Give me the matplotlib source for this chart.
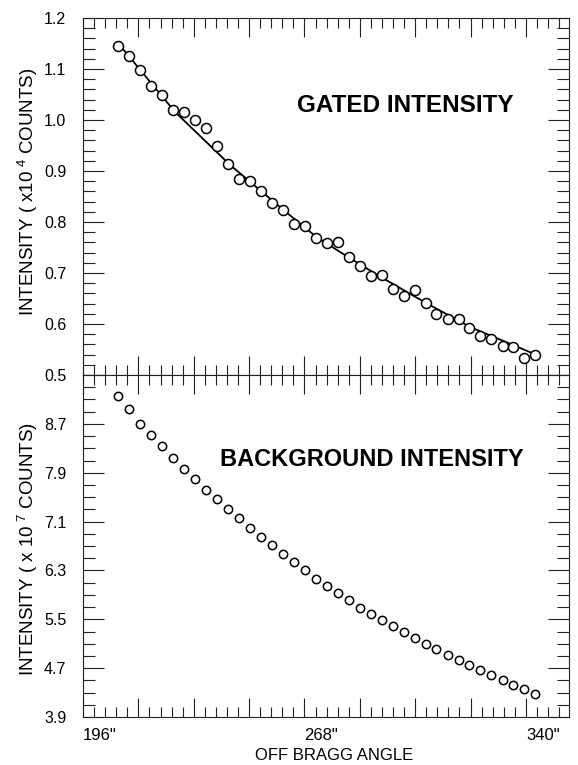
import numpy as np
import matplotlib
matplotlib.use("Agg")
import matplotlib.pyplot as plt
from matplotlib.ticker import FixedLocator, MultipleLocator

plt.rcParams['font.family'] = ['Liberation Sans', 'DejaVu Sans']
plt.rcParams['mathtext.fontset'] = 'custom'
plt.rcParams['mathtext.rm'] = 'Liberation Sans'

# off bragg angle (arcsec) of each measurement
angle = [207.4, 211.0, 214.5, 218.1, 221.7, 225.3, 228.8, 232.4, 236.0, 239.5,
         243.1, 246.7, 250.2, 253.8, 257.4, 261.0, 264.5, 268.1, 271.7, 275.2,
         278.8, 282.4, 285.9, 289.5, 293.1, 296.7, 300.2, 303.8, 307.4, 310.9,
         314.5, 318.1, 321.6, 325.2, 328.8, 332.4, 335.9, 339.5, 343.1]

# gated intensity, x1e4 counts
gated = [1.146, 1.126, 1.099, 1.067, 1.050, 1.020, 1.016, 1.000, 0.985, 0.950,
         0.913, 0.885, 0.880, 0.861, 0.838, 0.824, 0.797, 0.792, 0.768, 0.758,
         0.761, 0.732, 0.714, 0.695, 0.697, 0.669, 0.654, 0.667, 0.642, 0.619,
         0.610, 0.609, 0.592, 0.577, 0.571, 0.556, 0.554, 0.534, 0.539]

# fitted curve through the gated data
fit_angle = [207.5, 225.9, 243.8, 261.1, 272.0, 282.8, 292.6, 306.7, 321.9, 343.6]
fit_gated = [1.150, 1.016, 0.912, 0.824, 0.770, 0.729, 0.693, 0.644, 0.594, 0.539]

# background intensity, x1e7 counts
background = [9.154, 8.936, 8.702, 8.522, 8.330, 8.145, 7.965, 7.790, 7.622, 7.463,
              7.310, 7.157, 7.000, 6.846, 6.710, 6.574, 6.430, 6.301, 6.165, 6.039,
              5.930, 5.810, 5.690, 5.581, 5.483, 5.384, 5.291, 5.200, 5.101, 5.008,
              4.921, 4.828, 4.746, 4.664, 4.582, 4.512, 4.430, 4.353, 4.283]

xlabels = {196: '196"', 268: '268"', 340: '340"'}

fig = plt.figure(figsize=(5.78, 7.65), dpi=100)
L, R = 83 / 578, 569 / 578
ax1 = fig.add_axes([L, 1 - 375 / 765, R - L, (375 - 18) / 765])
ax2 = fig.add_axes([L, 1 - 717 / 765, R - L, (717 - 375) / 765])

ax1.plot(fit_angle, fit_gated, color='black', lw=1.3, zorder=2)
ax1.plot(angle, gated, 'o', ms=7.2, mfc='white', mec='black', mew=1.1, zorder=3)
ax2.plot(angle, background, 'o', ms=6, mfc='white', mec='black', mew=1.1)

xmaj = np.arange(196, 355, 18)
xmin = np.arange(196, 355, 3.6)
for ax in (ax1, ax2):
    ax.set_xlim(196, 354)
    ax.xaxis.set_major_locator(FixedLocator(xmaj))
    ax.xaxis.set_minor_locator(FixedLocator(xmin))
    ax.tick_params(which='both', direction='in', top=True, right=True,
                   width=0.8, color='#222222', labelsize=11.5)
    ax.xaxis.set_tick_params(which='major', length=13.5)
    ax.xaxis.set_tick_params(which='minor', length=7)
    ax.yaxis.set_tick_params(which='major', length=15, pad=12)
    ax.yaxis.set_tick_params(which='minor', length=8.5)
    for s in ax.spines.values():
        s.set_linewidth(0.8)
        s.set_color('#222222')

ax1.set_ylim(0.5, 1.2)
ax1.yaxis.set_major_locator(FixedLocator(np.arange(0.5, 1.21, 0.1)))
ax1.yaxis.set_minor_locator(MultipleLocator(0.02))
ax1.set_yticklabels(['%.1f' % v for v in np.arange(0.5, 1.21, 0.1)])
ax1.set_xticklabels([])

ybot = np.arange(3.9, 9.51, 0.8)
ax2.set_ylim(3.9, 9.5)
ax2.yaxis.set_major_locator(FixedLocator(ybot))
ax2.yaxis.set_minor_locator(FixedLocator(np.arange(3.9, 9.51, 0.2)))
ax2.set_yticklabels(['%.1f' % v for v in ybot[:-1]] + [''])
ax2.set_xticklabels([xlabels.get(int(round(v)), '') for v in xmaj], ha='left',
                    fontsize=12)
ax2.xaxis.set_tick_params(which='major', pad=8)

ax1.text(405 / 578, 1 - 105 / 765, 'GATED INTENSITY', transform=fig.transFigure,
         ha='center', va='center', fontsize=17.5, fontweight='bold')
ax2.text(372 / 578, 1 - 460 / 765, 'BACKGROUND INTENSITY', transform=fig.transFigure,
         ha='center', va='center', fontsize=17, fontweight='bold')

fig.text(28 / 578, 1 - 192 / 765, r'INTENSITY ( x10$^{\ 4}$ COUNTS)', rotation=90,
         ha='center', va='center', fontsize=13.5)
fig.text(28 / 578, 1 - 549 / 765, r'INTENSITY ( x 10$^{\ 7}$ COUNTS)', rotation=90,
         ha='center', va='center', fontsize=13.5)
fig.text(334 / 578, 1 - 755 / 765, 'OFF BRAGG ANGLE', ha='center', va='center',
         fontsize=12)

fig.savefig('out.png', dpi=100)
